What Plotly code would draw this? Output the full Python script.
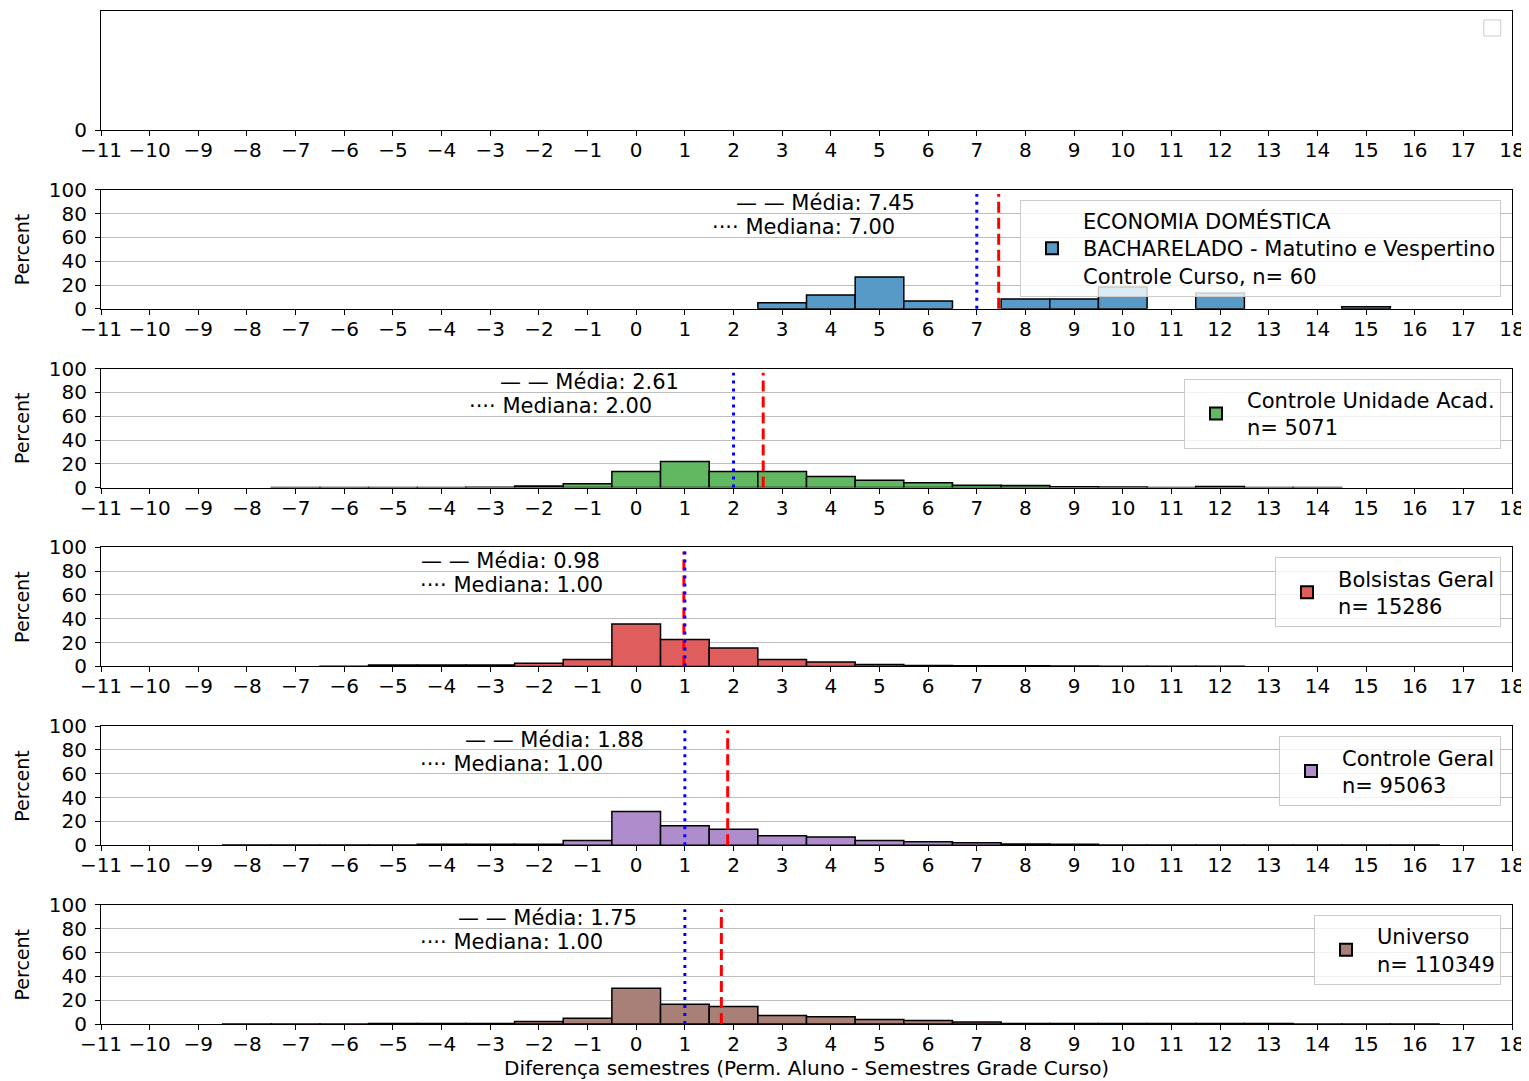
import plotly.graph_objects as go
from plotly.subplots import make_subplots

# ---------------- data ----------------
x_ticks = list(range(-11, 19))

econ_bins = [3, 4, 5, 6, 8, 9, 10, 12, 15]
econ_pct = [5.0, 11.67, 26.67, 6.67, 8.33, 8.33, 18.33, 13.33, 1.67]

unidade_bins = list(range(-7, 15))
unidade_pct = [0.1, 0.1, 0.1, 0.1, 0.4, 1.4, 3.2, 13.6, 22.0, 13.6, 13.6,
               9.3, 6.1, 4.1, 2.0, 1.7, 0.7, 0.6, 0.1, 0.9, 0.1, 0.1]

bolsistas_bins = list(range(-6, 13))
bolsistas_pct = [0.2, 1.1, 1.1, 1.1, 2.6, 5.7, 35.7, 22.6, 15.4, 5.7,
                 3.7, 1.7, 0.8, 0.6, 0.5, 0.4, 0.1, 0.1, 0.05]

geral_bins = list(range(-8, 17))
geral_pct = [0.2, 0.2, 0.2, 0.2, 0.8, 0.8, 0.9, 3.9, 28.3, 16.3, 13.4,
             8.0, 6.8, 4.0, 3.0, 2.0, 1.0, 0.9, 0.1, 0.1, 0.1, 0.1, 0.1, 0.1, 0.1]

universo_bins = list(range(-8, 17))
universo_pct = [0.1, 0.1, 0.1, 0.5, 0.5, 0.5, 2.0, 4.9, 30.0, 16.6, 14.6,
                7.1, 6.0, 3.7, 2.9, 1.7, 0.5, 0.5, 0.5, 0.5, 0.5, 0.5, 0.05, 0.05, 0.05]

series_labels = [
    "ECONOMIA DOMÉSTICA<br>BACHARELADO - Matutino e Vespertino<br>Controle Curso, n= 60",
    "Controle Unidade Acad.<br>n= 5071",
    "Bolsistas Geral<br>n= 15286",
    "Controle Geral<br>n= 95063",
    "Universo<br>n= 110349",
]
series_means = [7.45, 2.61, 0.98, 1.88, 1.75]
series_medians = [7.00, 2.00, 1.00, 1.00, 1.00]
series_bins = [econ_bins, unidade_bins, bolsistas_bins, geral_bins, universo_bins]
series_pct = [econ_pct, unidade_pct, bolsistas_pct, geral_pct, universo_pct]
series_colors = ["rgb(87,153,199)", "rgb(97,184,97)", "rgb(224,93,94)",
                 "rgb(175,141,205)", "rgb(169,128,120)"]

y_ticks = [0, 20, 40, 60, 80, 100]
x_title = "Diferença semestres (Perm. Aluno - Semestres Grade Curso)"
y_title = "Percent"

# ---------------- figure ----------------
FONT = "DejaVu Sans"
TICK_FS = 20
TEXT_FS = 21
LEG_FS = 21

# the html body has an 8px margin: size/margins are set so the plot lands
# on the same pixels as the reference
W, HGT = 1521, 1073
ML, MR, MT, MB = 93, 17, 3, 57
H = HGT - MT - MB
PW = W - ML - MR

fig = make_subplots(rows=6, cols=1, vertical_spacing=0.059)

# empty first panel (keeps the subplot registered)
fig.add_trace(go.Scatter(x=[], y=[], showlegend=False, hoverinfo="skip"), row=1, col=1)

for i in range(5):
    row = i + 2
    leg = "legend" if i == 0 else f"legend{i + 1}"
    fig.add_trace(
        go.Bar(
            x=series_bins[i], y=series_pct[i], width=1,
            marker=dict(color=series_colors[i], line=dict(color="black", width=1.5)),
            name=series_labels[i], legend=leg, showlegend=True,
            hoverinfo="x+y",
        ),
        row=row, col=1,
    )

axis_common = dict(showline=True, mirror=True, linecolor="black", linewidth=1,
                   ticks="outside", ticklen=5, tickcolor="black",
                   tickfont=dict(family=FONT, size=TICK_FS, color="black"),
                   zeroline=False, automargin=False, ticklabeloverflow="allow")

for r in range(1, 7):
    xa = "xaxis" if r == 1 else f"xaxis{r}"
    ya = "yaxis" if r == 1 else f"yaxis{r}"
    fig.layout[xa].update(range=[-11, 18], tickmode="array", tickvals=x_ticks,
                          showgrid=False, ticklabelstandoff=-3, **axis_common)
    if r == 1:
        fig.layout[ya].update(range=[0, 1], tickmode="array", tickvals=[0],
                              showgrid=False, ticklabelstandoff=4, **axis_common)
    else:
        fig.layout[ya].update(range=[0, 100], tickmode="array", tickvals=y_ticks,
                              showgrid=True, gridcolor="#bdbdbd", gridwidth=1,
                              ticklabelstandoff=4, **axis_common)
        fig.add_annotation(text=y_title, textangle=-90, showarrow=False,
                           xref="paper", x=-(101 - 22) / PW, xanchor="center",
                           yref=f"y{r} domain", y=0.5, yanchor="middle",
                           font=dict(family=FONT, size=19, color="black"))

# x axis title (bottom panel only)
fig.add_annotation(text=x_title, showarrow=False,
                   xref="x6 domain", x=0.5, xanchor="center",
                   yref="paper", y=-(1068 - 1024) / H, yanchor="middle",
                   font=dict(family=FONT, size=20, color="black"))

for i in range(5):
    r = i + 2
    xr = f"x{r}"
    yr = f"y{r} domain"
    fig.add_shape(type="line", xref=xr, yref=yr, x0=series_means[i], x1=series_means[i],
                  y0=0, y1=0.965, line=dict(color="red", width=3, dash="11px,5px"))
    fig.add_shape(type="line", xref=xr, yref=yr, x0=series_medians[i], x1=series_medians[i],
                  y0=0, y1=0.965, line=dict(color="blue", width=3, dash="3px,5px"))
    fig.add_annotation(x=series_means[i], xref=xr, y=1 - 13.5 / 119, yref=yr,
                       text=f"— — Média: {series_means[i]:.2f}", showarrow=False,
                       xanchor="right", yanchor="middle", xshift=-82,
                       font=dict(family=FONT, size=TEXT_FS, color="black"))
    fig.add_annotation(x=series_medians[i], xref=xr, y=1 - 37.5 / 119, yref=yr,
                       text=f"···· Mediana: {series_medians[i]:.2f}", showarrow=False,
                       xanchor="right", yanchor="middle", xshift=-80,
                       font=dict(family=FONT, size=TEXT_FS, color="black"))
    ya = f"yaxis{r}"
    top = fig.layout[ya].domain[1]
    leg = "legend" if i == 0 else f"legend{i + 1}"
    fig.layout[leg] = dict(x=1 - 11 / PW, xanchor="right",
                           y=top - 10 / H, yanchor="top", xref="paper", yref="paper",
                           bgcolor="rgba(255,255,255,0.8)", bordercolor="#cccccc", borderwidth=1,
                           font=dict(family=FONT, size=LEG_FS, color="black"),
                           itemsizing="constant", itemwidth=52, tracegroupgap=0)

# empty legend box of the first panel
fig.add_shape(type="rect", xref="x domain", yref="y domain",
              x0=0.980, x1=0.992, y0=0.79, y1=0.925,
              line=dict(color="#cccccc", width=1), fillcolor="white")

fig.update_layout(
    width=W, height=HGT,
    margin=dict(l=ML, r=MR, t=MT, b=MB),
    plot_bgcolor="white", paper_bgcolor="white",
    font=dict(family=FONT, size=TICK_FS, color="black"),
    barmode="overlay",
)

fig.write_html("out.html")
